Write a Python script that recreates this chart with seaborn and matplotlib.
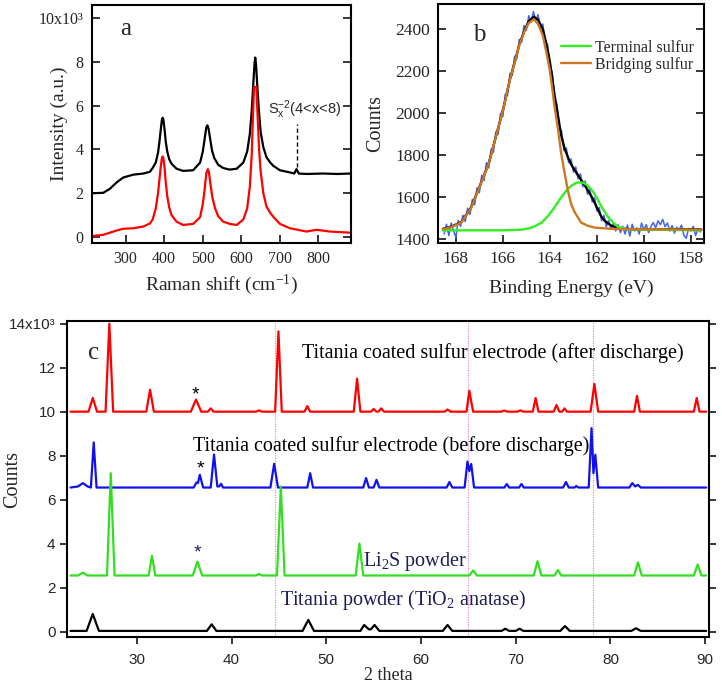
import matplotlib

matplotlib.use("Agg")

import matplotlib.pyplot as plt
import seaborn as sns


# ---- panel a: Raman spectra (intensity in units of 10^3) ----
RAMAN_X_TOP = [215, 242, 259, 277, 294, 320, 346, 363,
               370, 378, 384, 388, 391, 394, 396, 398, 401, 404, 408, 413, 419,
               432, 449, 475,
               493, 500, 505, 509, 512, 515, 519, 524, 530, 540,
               553, 570, 588,
               605, 615, 622, 627, 631, 634, 636, 638, 641, 645, 650, 657, 665, 675, 683,
               700, 726, 737, 743, 749, 769, 812, 850, 881]
RAMAN_Y_TOP = [2.00, 2.02, 2.20, 2.50, 2.72, 2.85, 2.90, 2.98,
               3.15, 3.40, 3.85, 4.40, 4.90, 5.35, 5.45, 5.35, 4.90, 4.35, 3.90, 3.55, 3.35,
               3.12, 3.02, 3.05,
               3.40, 3.90, 4.50, 5.00, 5.10, 4.95, 4.50, 3.95, 3.60, 3.30,
               3.15, 3.08, 3.12,
               3.40, 3.90, 4.70, 5.80, 7.00, 7.90, 8.20, 7.90, 7.00, 5.90, 4.80, 4.10, 3.65, 3.40, 3.25,
               3.05, 2.95, 2.90, 3.10, 2.90, 2.88, 2.90, 2.88, 2.90]
RAMAN_X_BOTTOM = [215, 242, 277, 294, 320, 346, 363,
                  370, 378, 384, 388, 391, 394, 396, 398, 401, 404, 408, 413, 419,
                  432, 449, 475,
                  493, 500, 505, 509, 513, 516, 520, 525, 532, 540,
                  553, 570, 588,
                  605, 615, 622, 627, 630, 633, 639, 642, 646, 650, 657, 665, 675, 683,
                  700, 726, 769, 795, 830, 881]
RAMAN_Y_BOTTOM = [0.05, 0.10, 0.30, 0.38, 0.40, 0.48, 0.62,
                  0.80, 1.30, 2.00, 2.70, 3.20, 3.60, 3.68, 3.60, 3.15, 2.50, 1.85, 1.35, 1.00,
                  0.70, 0.55, 0.60,
                  0.90, 1.50, 2.20, 2.90, 3.10, 2.95, 2.40, 1.80, 1.30, 0.95,
                  0.70, 0.60, 0.55,
                  0.80, 1.30, 2.30, 3.80, 5.50, 6.85, 6.85, 5.60, 4.00, 3.00, 2.00, 1.40, 1.10, 0.92,
                  0.60, 0.40, 0.25, 0.33, 0.25, 0.20]
SX_SHIFT = 743
SX_SPAN = [3.2, 5.15]
SX_LABEL = "S$_x^{-2}$(4<x<8)"
RAMAN_TICKS = [0, 2, 4, 6, 8, 10]
RAMAN_TICK_LABELS = ["0", "2", "4", "6", "8", "10x10³"]

# ---- panel b: XPS S 2p ----
XPS_EV = [168.5, 168.4, 168.3, 168.2, 168.1, 168.0, 167.9, 167.8, 167.7, 167.6,
          167.5, 167.4, 167.3, 167.2, 167.1, 167.0, 166.9, 166.8, 166.7, 166.6,
          166.5, 166.4, 166.3, 166.2, 166.1, 166.0, 165.9, 165.8, 165.7, 165.6,
          165.5, 165.4, 165.3, 165.2, 165.1, 165.0, 164.9, 164.8, 164.7, 164.6,
          164.5, 164.4, 164.3, 164.2, 164.1, 164.0, 163.9, 163.8, 163.7, 163.6,
          163.5, 163.4, 163.3, 163.2, 163.1, 163.0, 162.9, 162.8, 162.7, 162.6,
          162.5, 162.4, 162.3, 162.2, 162.1, 162.0, 161.9, 161.8, 161.7, 161.6,
          161.5, 161.4, 161.3, 161.2, 161.1, 161.0, 160.9, 160.8, 160.7, 160.6,
          160.5, 160.4, 160.3, 160.2, 160.1, 160.0, 159.9, 159.8, 159.7, 159.6,
          159.5, 159.4, 159.3, 159.2, 159.1, 159.0, 158.9, 158.8, 158.7, 158.6,
          158.5, 158.4, 158.3, 158.2, 158.1, 158.0, 157.9, 157.8, 157.7, 157.6]
XPS_COUNTS = [1425, 1472, 1418, 1478, 1440, 1410, 1490, 1462, 1515, 1485,
              1548, 1518, 1590, 1565, 1645, 1622, 1705, 1680, 1765, 1740,
              1830, 1815, 1912, 1900, 2000, 1985, 2090, 2085, 2190, 2180,
              2272, 2262, 2352, 2338, 2418, 2395, 2465, 2435, 2485, 2440,
              2470, 2405, 2425, 2335, 2330, 2225, 2195, 2065, 2045, 1935,
              1915, 1822, 1835, 1765, 1782, 1720, 1745, 1688, 1712, 1650,
              1678, 1615, 1638, 1578, 1598, 1535, 1552, 1488, 1515, 1460,
              1490, 1448, 1478, 1440, 1470, 1432, 1462, 1425, 1468, 1415,
              1472, 1440, 1455, 1425, 1478, 1446, 1470, 1432, 1462, 1480,
              1455, 1488, 1470, 1495, 1460, 1478, 1440, 1465, 1430, 1458,
              1445, 1468, 1420, 1405, 1452, 1440, 1462, 1418, 1450, 1435]
FIT_EV = [168.55, 168.2, 167.77, 167.35, 166.92, 166.6, 166.35, 166.1, 165.93, 165.7,
          165.5, 165.3, 165.08, 164.9, 164.68, 164.5, 164.30, 164.15, 164.01, 163.90,
          163.80, 163.65, 163.52, 163.38, 163.23, 163.10, 162.95, 162.80, 162.67, 162.50,
          162.38, 162.20, 162.10, 161.95, 161.82, 161.68, 161.53, 161.40, 161.25, 161.05,
          160.82, 160.50, 157.56]
FIT_COUNTS = [1450, 1460, 1482, 1552, 1672, 1762, 1867, 1972, 2047, 2162,
              2243, 2328, 2395, 2438, 2460, 2445, 2400, 2330, 2252, 2170,
              2085, 1985, 1895, 1835, 1790, 1758, 1730, 1705, 1682, 1655,
              1632, 1598, 1575, 1540, 1510, 1490, 1476, 1466, 1459, 1453,
              1450, 1448, 1447]
BRIDGING_EV = [168.55, 168.2, 167.77, 167.35, 166.92, 166.6, 166.35, 166.1, 165.93, 165.7,
               165.5, 165.3, 165.08, 164.9, 164.68, 164.5, 164.30, 164.15, 164.01, 163.90,
               163.80, 163.65, 163.52, 163.38, 163.23, 163.10, 162.95, 162.67, 162.40, 162.10,
               161.39, 160.68, 157.56]
BRIDGING_COUNTS = [1448, 1458, 1480, 1550, 1670, 1760, 1865, 1970, 2045, 2160,
                   2240, 2325, 2390, 2430, 2448, 2425, 2370, 2290, 2210, 2120,
                   2030, 1920, 1810, 1720, 1630, 1570, 1530, 1480, 1465, 1456,
                   1450, 1448, 1446]
TERMINAL_EV = [168.55, 166.0, 165.22, 164.90, 164.65, 164.35, 164.09, 163.80, 163.52, 163.30,
               163.09, 162.90, 162.74, 162.55, 162.38, 162.15, 161.96, 161.75, 161.53, 161.30,
               161.11, 160.68, 157.56]
TERMINAL_COUNTS = [1443, 1443, 1446, 1452, 1462, 1480, 1510, 1553, 1600, 1632,
                   1655, 1668, 1672, 1668, 1655, 1625, 1588, 1545, 1508, 1478,
                   1460, 1447, 1443]
XPS_LEGEND = ["Terminal sulfur", "Bridging sulfur"]

# ---- panel c: XRD patterns (counts in units of 10^3) ----
XRD_AFTER_X = [23.0,
               24.9, 25.35, 25.8, 26.7, 27.1, 27.5, 31.0, 31.4, 31.8,
               35.7, 36.25, 36.8, 37.5, 37.8, 38.1, 42.6, 42.9, 43.2,
               44.6, 44.95, 45.3, 47.7, 48.0, 48.3, 52.9, 53.25, 53.6,
               54.7, 55.0, 55.3, 55.5, 55.8, 56.1, 62.5, 62.8, 63.1,
               64.8, 65.1, 65.5, 68.5, 68.8, 69.1, 70.2, 70.5, 70.8,
               71.8, 72.1, 72.4, 74.0, 74.3, 74.6, 74.9, 75.15, 75.4,
               77.9, 78.3, 78.7, 82.5, 82.8, 83.1, 88.8, 89.1, 89.4,
               90.1]
XRD_AFTER_Y = [10.0,
               10.0, 10.62, 10.0, 10.0, 14.0, 10.0, 10.0, 11.0, 10.0,
               10.0, 10.55, 10.0, 10.0, 10.15, 10.0, 10.0, 10.06, 10.0,
               10.0, 13.65, 10.0, 10.0, 10.25, 10.0, 10.0, 11.5, 10.0,
               10.0, 10.12, 10.0, 10.0, 10.15, 10.0, 10.0, 10.1, 10.0,
               10.0, 10.95, 10.0, 10.0, 10.05, 10.0, 10.0, 10.06, 10.0,
               10.0, 10.62, 10.0, 10.0, 10.3, 10.0, 10.0, 10.15, 10.0,
               10.0, 11.26, 10.0, 10.0, 10.72, 10.0, 10.0, 10.62, 10.0,
               10.0]
XRD_BEFORE_X = [23.0, 23.8, 24.3, 24.8,
                25.15, 25.45, 25.75,
                36.0, 36.3, 36.45, 36.65, 37.0,
                37.8, 38.15, 38.5, 38.7, 38.9, 39.1,
                44.1, 44.5, 44.9, 48.0, 48.3, 48.6,
                53.9, 54.2, 54.5, 55.0, 55.3, 55.6, 62.7, 63.0, 63.3,
                64.6, 64.9, 65.1, 65.3, 65.6,
                68.8, 69.05, 69.3, 70.35, 70.6, 70.85,
                75.0, 75.3, 75.6, 76.2, 76.4, 76.6,
                77.7, 78.0, 78.2, 78.4, 78.7,
                82.0, 82.3, 82.6, 82.9, 83.2,
                90.1]
XRD_BEFORE_Y = [6.55, 6.6, 6.75, 6.6,
                6.55, 8.6, 6.55,
                6.55, 6.78, 6.75, 7.13, 6.55,
                6.55, 8.05, 6.6, 6.6, 6.72, 6.55,
                6.55, 7.63, 6.55, 6.55, 7.2, 6.55,
                6.55, 6.98, 6.55, 6.55, 6.9, 6.55, 6.55, 6.8, 6.55,
                6.55, 7.73, 7.3, 7.62, 6.55,
                6.55, 6.71, 6.55, 6.55, 6.71, 6.55,
                6.55, 6.8, 6.55, 6.55, 6.62, 6.55,
                6.55, 9.25, 7.2, 8.04, 6.55,
                6.55, 6.75, 6.6, 6.67, 6.55,
                6.55]
XRD_LI2S_X = [23.0, 23.8, 24.3, 24.8,
              26.85, 27.25, 27.65, 31.25, 31.6, 31.95,
              35.9, 36.4, 36.9, 42.6, 42.9, 43.2,
              44.8, 45.2, 45.6, 53.1, 53.5, 53.9,
              65.1, 65.5, 65.9, 71.9, 72.3, 72.7,
              74.1, 74.45, 74.8, 82.5, 82.9, 83.3,
              88.8, 89.2, 89.6, 90.1]
XRD_LI2S_Y = [2.55, 2.55, 2.68, 2.55,
              2.55, 7.2, 2.55, 2.55, 3.45, 2.55,
              2.55, 3.18, 2.55, 2.55, 2.62, 2.55,
              2.55, 6.6, 2.55, 2.55, 4.0, 2.55,
              2.55, 2.78, 2.55, 2.55, 3.2, 2.55,
              2.55, 2.8, 2.55, 2.55, 3.15, 2.55,
              2.55, 3.05, 2.55, 2.55]
XRD_TIO2_X = [23.0, 24.7, 25.35, 26.0,
              37.4, 37.9, 38.4, 47.5, 48.1, 48.7,
              53.6, 54.0, 54.5, 54.7, 55.1, 55.6,
              62.3, 62.8, 63.3, 68.5, 68.9, 69.3,
              70.0, 70.4, 70.8, 74.7, 75.2, 75.7,
              82.2, 82.7, 83.2, 90.1]
XRD_TIO2_Y = [0.03, 0.03, 0.8, 0.03,
              0.03, 0.33, 0.03, 0.03, 0.53, 0.03,
              0.03, 0.3, 0.1, 0.1, 0.3, 0.03,
              0.03, 0.3, 0.03, 0.03, 0.13, 0.03,
              0.03, 0.13, 0.03, 0.03, 0.25, 0.03,
              0.03, 0.15, 0.03, 0.03]
XRD_GUIDES = [44.6, 65.0, 78.2]
XRD_LABELS = [
    "Titania coated sulfur electrode (after discharge)",
    "Titania coated sulfur electrode (before discharge)",
    "Li$_2$S powder",
    "Titania powder (TiO$_2$ anatase)",
]
XRD_LABEL_X = [47.4, 35.9, 53.85, 45.1]
XRD_LABEL_Y = [12.67, 8.42, 3.18, 1.44]
STAR_X = [36.2, 36.7, 36.4]
STAR_Y = [10.77, 7.39, 3.57]
XRD_TICKS = [0, 2, 4, 6, 8, 10, 12, 14]
XRD_TICK_LABELS = ["0", "2", "4", "6", "8", "10", "12", "14x10³"]
XRD_XTICKS = [30, 40, 50, 60, 70, 80, 90]

NAVY = "#1c1c5a"
SERIF = ["Liberation Serif", "DejaVu Serif"]
SANS = ["Liberation Sans", "DejaVu Sans"]


def style_frame(ax, width=1.5):
    for side in ["left", "right", "top", "bottom"]:
        ax.spines[side].set_visible(True)
        ax.spines[side].set_linewidth(width)
        ax.spines[side].set_color("black")


def draw_raman(ax):
    sns.lineplot(x=RAMAN_X_TOP, y=RAMAN_Y_TOP, ax=ax, color="black", linewidth=1.6,
                 sort=False, estimator=None)
    sns.lineplot(x=RAMAN_X_BOTTOM, y=RAMAN_Y_BOTTOM, ax=ax, color="#ff0000", linewidth=1.6,
                 sort=False, estimator=None)
    ax.vlines(SX_SHIFT, SX_SPAN[0], SX_SPAN[1], colors="black", linestyles=(0, (3, 2)), linewidth=1.0)
    ax.text(765, 5.82, SX_LABEL, ha="center", va="center", fontsize=10.5, family=SANS)
    ax.text(0.11, 0.9, "a", transform=ax.transAxes, fontsize=18, va="center", ha="left")
    ax.set_xlim(212, 884)
    ax.set_ylim(-0.26, 10.6)
    ax.set_xticks([300, 400, 500, 600, 700, 800])
    ax.set_yticks(RAMAN_TICKS, RAMAN_TICK_LABELS)
    ax.tick_params(direction="in", length=6, width=1.3, right=True, top=False, labelsize=11.5, pad=6)
    ax.set_xlabel("Raman shift (cm$^{-1}$)", fontsize=14, labelpad=4)
    ax.set_ylabel("Intensity (a.u.)", fontsize=14)
    ax.yaxis.set_label_coords(-0.092, 0.5)
    style_frame(ax)


def draw_xps(ax):
    sns.lineplot(x=XPS_EV, y=XPS_COUNTS, ax=ax, color="#4466ee", linewidth=1.1,
                 sort=False, estimator=None)
    sns.lineplot(x=FIT_EV, y=FIT_COUNTS, ax=ax, color="black", linewidth=1.7,
                 sort=False, estimator=None)
    sns.lineplot(x=TERMINAL_EV, y=TERMINAL_COUNTS, ax=ax, color="#33ee22", linewidth=1.7,
                 sort=False, estimator=None, label=XPS_LEGEND[0])
    sns.lineplot(x=BRIDGING_EV, y=BRIDGING_COUNTS, ax=ax, color="#cc7722", linewidth=1.7,
                 sort=False, estimator=None, label=XPS_LEGEND[1])
    handles = ax.lines[2:4]
    ax.legend(handles, XPS_LEGEND, loc="upper left", bbox_to_anchor=(0.46, 0.85), frameon=False,
              fontsize=11.5, handlelength=1.9, handletextpad=0.25, labelspacing=0.07,
              borderpad=0, borderaxespad=0)
    ax.text(0.13, 0.87, "b", transform=ax.transAxes, fontsize=18, va="center", ha="left")
    ax.set_xlim(168.74, 157.43)
    ax.set_ylim(1384, 2520)
    ax.set_xticks([168, 166, 164, 162, 160, 158])
    ax.set_yticks([1400, 1600, 1800, 2000, 2200, 2400])
    ax.tick_params(direction="in", length=6, width=1.3, right=True, top=False, labelsize=12.5, pad=6)
    ax.set_xlabel("Binding Energy (eV)", fontsize=14, labelpad=9)
    ax.set_ylabel("Counts", fontsize=14.5)
    ax.yaxis.set_label_coords(-0.2, 0.5)
    style_frame(ax)


def draw_xrd(ax):
    for guide in XRD_GUIDES:
        ax.axvline(guide, color="#e07ccc", linestyle=(0, (1, 1.2)), linewidth=0.8, zorder=1)
    traces = [
        (XRD_AFTER_X, XRD_AFTER_Y, "#ff0000"),
        (XRD_BEFORE_X, XRD_BEFORE_Y, "#1111ee"),
        (XRD_LI2S_X, XRD_LI2S_Y, "#33dd22"),
        (XRD_TIO2_X, XRD_TIO2_Y, "black"),
    ]
    for xs, ys, color in traces:
        sns.lineplot(x=xs, y=ys, ax=ax, color=color, linewidth=1.6, sort=False, estimator=None,
                     solid_joinstyle="round")
    colors = ["black", "black", NAVY, NAVY]
    for text, x, y, color in zip(XRD_LABELS, XRD_LABEL_X, XRD_LABEL_Y, colors):
        ax.text(x, y, text, ha="left", va="center", fontsize=14.5, color=color)
    for x, y, color in zip(STAR_X, STAR_Y, ["black", "black", NAVY]):
        ax.text(x, y, "*", ha="center", va="center", fontsize=14, color=color, family=SANS)
    ax.text(0.033, 0.9, "c", transform=ax.transAxes, fontsize=18, va="center", ha="left")
    ax.set_xlim(22.6, 90.4)
    ax.set_ylim(-0.26, 14.12)
    ax.set_xticks(XRD_XTICKS, [str(v) for v in XRD_XTICKS], family=SANS, fontsize=11)
    ax.set_yticks(XRD_TICKS, XRD_TICK_LABELS, family=SANS, fontsize=11)
    ax.tick_params(axis="x", direction="out", length=5, width=1.3, top=False, pad=6)
    ax.tick_params(axis="y", direction="out", length=5, width=1.3, right=True, pad=3)
    ax.set_xlabel("2 theta", fontsize=13, labelpad=0)
    ax.set_ylabel("Counts", fontsize=14.5)
    ax.yaxis.set_label_coords(-0.07, 0.5)
    style_frame(ax)


def main():
    sns.set_theme(style="ticks")
    plt.rcParams["font.family"] = SERIF
    plt.rcParams["mathtext.default"] = "regular"
    plt.rcParams["axes.unicode_minus"] = True

    fig = plt.figure(figsize=(7.22, 6.86), dpi=100)
    ax_a = fig.add_axes([0.127, 0.6462, 0.359, 0.3465])
    ax_b = fig.add_axes([0.6073, 0.6462, 0.3682, 0.3478])
    ax_c = fig.add_axes([0.0924, 0.071, 0.8896, 0.461])

    draw_raman(ax_a)
    draw_xps(ax_b)
    draw_xrd(ax_c)

    fig.savefig("out.png", dpi=100, facecolor="white")
    plt.close(fig)


if __name__ == "__main__":
    main()
